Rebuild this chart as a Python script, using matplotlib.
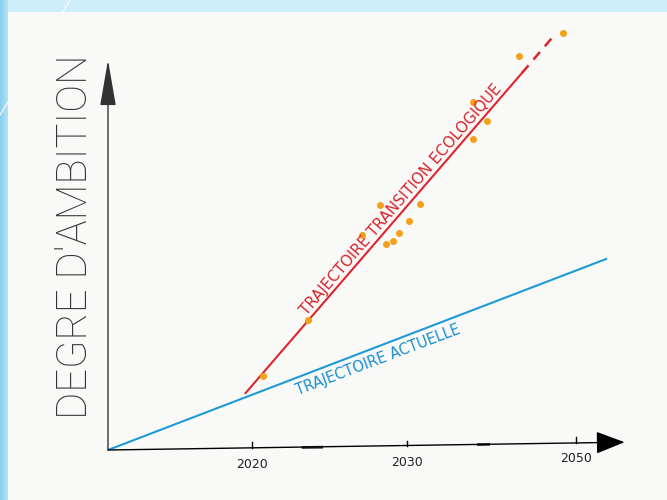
import numpy as np
import matplotlib
matplotlib.use("Agg")
import matplotlib.pyplot as plt

# axe des temps (graduations dessinees a la main, espacement irregulier)
annees_ticks = [2020, 2030, 2050]
annees_tirets = [2025, 2040]

# trajectoire actuelle (bleu)
actuelle_x = [2011, 2052.0]
actuelle_y = [0, 49]

# trajectoire transition ecologique (rouge), partie pleine puis pointillee
transition_x = [2019.6, 2044.2]
transition_y = [14.6, 96.7]
transition_pointille_x = [2044.2, 2047.5]
transition_pointille_y = [96.7, 105.9]

# points orange
points_x = [2020.95, 2024.8, 2027.7, 2028.6, 2028.9, 2029.3, 2029.6, 2030.3,
            2031.7, 2038.7, 2040.4, 2038.7, 2043.9, 2048.6]
points_y = [19.0, 33.3, 55.1, 62.8, 52.8, 53.6, 55.6, 58.7,
            63.1, 89.2, 84.4, 79.7, 101.0, 106.9]

# echelle du dessin : les annees ne sont pas regulierement espacees
yr_anchor = [2000, 2011, 2020, 2025, 2030, 2040, 2050, 2056, 2070]
pos_anchor = [-160, 0, 144, 202, 299, 375, 468, 559, 770]


def fwd(x):
    return np.interp(x, yr_anchor, pos_anchor)


def inv(x):
    return np.interp(x, pos_anchor, yr_anchor)


W, H = 667, 500
fig = plt.figure(figsize=(W / 100, H / 100), dpi=100)

# fond : bord bleu de la diapo + feuille blanche
bg = fig.add_axes([0, 0, 1, 1])
img = np.zeros((H, W, 3))
img[:, :] = [205, 238, 250]
for i in range(8):
    t = i / 8
    img[:, i] = np.array([135, 208, 240]) * (1 - t) + np.array([185, 228, 246]) * t
img[12:, 8:] = [249, 249, 248]
bg.imshow(img / 255, aspect="auto", extent=(0, W, H, 0))
bg.plot([70, 63], [0, 12], color="white", lw=1, alpha=0.8)
bg.plot([8, 0], [102, 115], color="white", lw=1, alpha=0.8)
bg.set_xlim(0, W)
bg.set_ylim(H, 0)
bg.axis("off")

ax = fig.add_axes([108 / W, 50 / H, (W - 108) / W, 450 / H])
ax.patch.set_alpha(0)
ax.set_xscale("function", functions=(fwd, inv))
ax.set_xlim(2011, 2056)
ax.set_ylim(0, 450 / 3.9)
ax.axis("off")


def axe_y(an):
    return np.interp(an, [2011, 2052], [0, 2.0])


# axes fleches
ax.annotate("", xy=(2011, 100), xytext=(2011, 0),
            arrowprops=dict(arrowstyle="-|>,head_length=29,head_width=5",
                            mutation_scale=1, lw=1, color="#333333",
                            shrinkA=0, shrinkB=0))
ax.annotate("", xy=(2053.2, axe_y(2053.2)), xytext=(2011, 0),
            arrowprops=dict(arrowstyle="-|>,head_length=18,head_width=7",
                            mutation_scale=1, lw=1, color="black",
                            shrinkA=0, shrinkB=0))
for an in annees_ticks:
    ax.plot([an, an], [axe_y(an), axe_y(an) + 1.5], color="black", lw=1)
    ax.text(an, axe_y(an) - 2.5, str(an), ha="center", va="top",
            fontsize=9, color="#222222", family="DejaVu Sans")
for an in annees_tirets:
    ax.plot([an - 0.6, an + 0.6], [axe_y(an - 0.6), axe_y(an + 0.6)],
            color="#333333", lw=2)

ax.plot(actuelle_x, actuelle_y, color="#1e9ad6", lw=1.5, solid_capstyle="round")
ax.plot(transition_x, transition_y, color="#e0242c", lw=1.5)
ax.plot(transition_pointille_x, transition_pointille_y, color="#e0242c", lw=1.8,
        dashes=(4, 3))
ax.plot(points_x, points_y, "o", color="#f5a01a", markersize=4, zorder=3)

ax.text(2024.91, 33.8, "TRAJECTOIRE TRANSITION ECOLOGIQUE", color="#d8232a",
        rotation=49.2, rotation_mode="anchor", ha="left", va="bottom",
        fontsize=10.8, family="DejaVu Sans")
ax.text(2023.6, 16.9, "TRAJECTOIRE ACTUELLE", color="#1a8fd0",
        rotation=20.8, rotation_mode="anchor", ha="left", va="top",
        fontsize=10.5, family="DejaVu Sans")

fig.text(75 / W, 1 - 237 / H, "DEGRE D'AMBITION", rotation=90,
         ha="center", va="center", fontsize=30, color="#333333",
         family="Roboto", fontweight="light")

fig.savefig("out.png", dpi=100)
